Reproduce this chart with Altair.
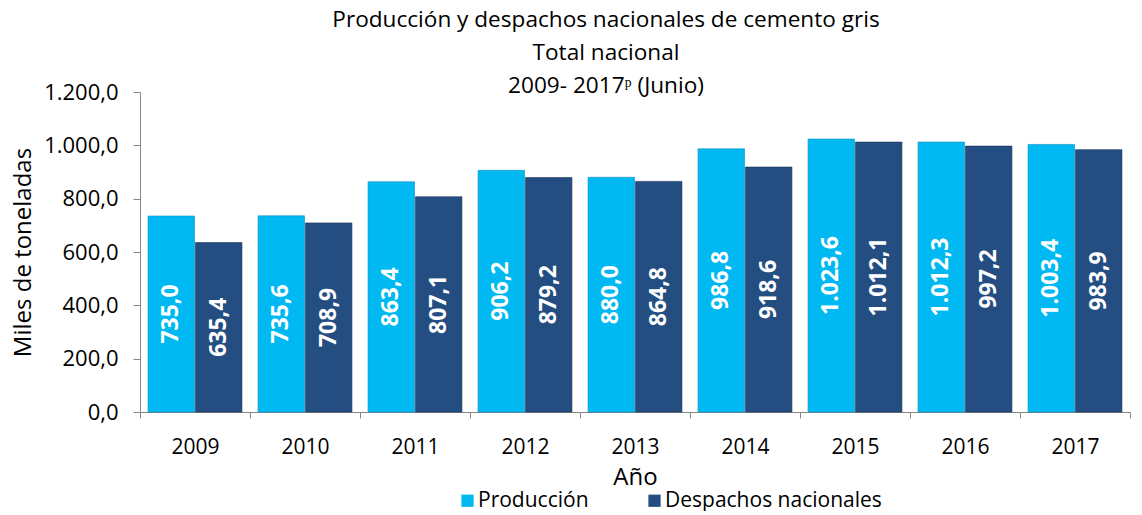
import altair as alt
import pandas as pd

years = ["2009", "2010", "2011", "2012", "2013", "2014", "2015", "2016", "2017"]
produccion = [735.0, 735.6, 863.4, 906.2, 880.0, 986.8, 1023.6, 1012.3, 1003.4]
despachos = [635.4, 708.9, 807.1, 879.2, 864.8, 918.6, 1012.1, 997.2, 983.9]
series = ["Producción", "Despachos nacionales"]
colors = ["#00B9F2", "#244E82"]
y_ticks = [0, 200, 400, 600, 800, 1000, 1200]


def es_fmt(v):
    s = f"{v:,.1f}"
    return s.replace(",", "#").replace(".", ",").replace("#", ".")


rows = []
for i, y in enumerate(years):
    for s, vals in zip(series, [produccion, despachos]):
        rows.append({"Año": y, "Serie": s, "Valor": vals[i], "Half": vals[i] / 2,
                     "Label": es_fmt(vals[i])})
df = pd.DataFrame(rows)

FONT = "Open Sans"

x_enc = alt.X("Año:N", sort=years,
              scale=alt.Scale(paddingInner=0, paddingOuter=0),
              axis=alt.Axis(title="Año", labelAngle=0, tickBand="extent",
                            labelFontSize=21, labelFont=FONT, labelColor="#000",
                            titleFontSize=24, titleFont=FONT, titleFontWeight="normal",
                            titleColor="#000", titlePadding=8,
                            domainColor="#868686", tickColor="#868686",
                            tickSize=6, labelPadding=18))
xoff = alt.XOffset("Serie:N", sort=series,
                   scale=alt.Scale(paddingOuter=0.17, paddingInner=0.02))

base = alt.Chart(df)

bars = base.mark_bar(strokeWidth=1, strokeOpacity=0.6).encode(
    x=x_enc,
    xOffset=xoff,
    y=alt.Y("Valor:Q",
            scale=alt.Scale(domain=[0, 1200]),
            axis=alt.Axis(title="Miles de toneladas", values=y_ticks,
                          labelExpr="replace(replace(replace(format(datum.value, ',.1f'), ',', '#'), '.', ','), '#', '.')",
                          grid=False, labelFontSize=22, labelFont=FONT, labelColor="#000",
                          titleFontSize=24, titleFont=FONT, titleFontWeight="normal",
                          titleColor="#000", titlePadding=8,
                          domainColor="#868686", tickColor="#868686", tickSize=7,
                          labelPadding=15)),
    color=alt.Color("Serie:N", sort=series,
                    scale=alt.Scale(domain=series, range=colors),
                    legend=alt.Legend(title=None, orient="none", direction="horizontal",
                                      legendX=317, legendY=398,
                                      symbolType="square", symbolSize=150,
                                      symbolStrokeWidth=0, labelLimit=400,
                                      labelFontSize=21, labelFont=FONT, labelColor="#000",
                                      columnPadding=55, labelOffset=0)),
    stroke=alt.Stroke("Serie:N", sort=series,
                      scale=alt.Scale(domain=series, range=["#0A8FC0", "#17345A"]),
                      legend=None),
)

labels = base.mark_text(angle=270, color="white", fontWeight="bold", fontSize=23,
                        font=FONT, baseline="middle", align="center").encode(
    x=alt.X("Año:N", sort=years),
    xOffset=alt.XOffset("Serie:N", sort=series),
    y=alt.Y("Half:Q"),
    text="Label:N",
)

chart = (bars + labels).properties(
    width=990,
    height=320,
    padding={"top": 1, "left": 3, "right": 0, "bottom": 0},
    title=alt.TitleParams(
        text=["Producción y despachos nacionales de cemento gris", "Total nacional",
              "2009- 2017ᵖ (Junio)"],
        fontSize=22.6, font=FONT, fontWeight="normal", color="#000",
        anchor="middle", dx=-29, lineHeight=33, offset=-17),
).configure_view(stroke=None)

chart.save("out.html", embed_options={"renderer": "svg", "actions": False})
